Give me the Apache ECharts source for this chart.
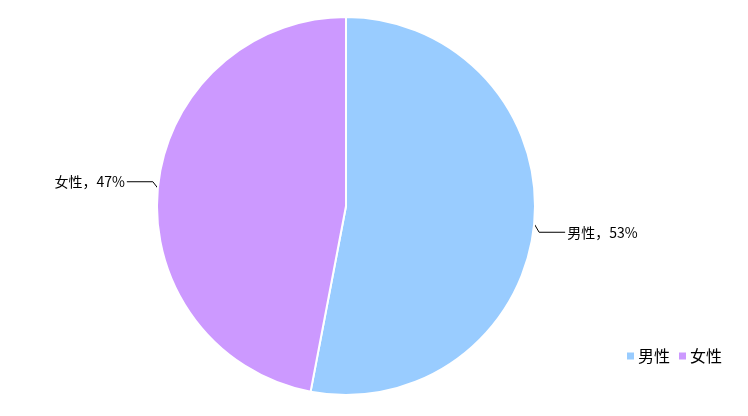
<!DOCTYPE html>
<html><head><meta charset="utf-8">
<script src="https://cdn.jsdelivr.net/npm/echarts@6/dist/echarts.min.js"></script>
<style>html,body{margin:0;padding:0;background:#fff}#c{width:748px;height:416px}</style>
</head><body><div id="c"></div>
<script>
const categories = ['男性', '女性'];
const values = [53, 47];
const colors = ['#99CCFF', '#CC99FF'];

const chart = echarts.init(document.getElementById('c'));
chart.setOption({
  animation: false,
  color: colors,
  legend: {
    data: categories,
    right: 21,
    top: 343,
    itemWidth: 9,
    itemHeight: 9,
    itemGap: 7,
    icon: 'rect',
    textStyle: { fontFamily: 'Noto Sans CJK SC', fontSize: 16, color: '#000', padding: [0,0,0,-2] }
  },
  series: [{
    type: 'pie',
    center: [346, 206],
    radius: 189,
    startAngle: 90,
    clockwise: true,
    itemStyle: { borderColor: '#fff', borderWidth: 2 },
    label: {
      show: true,
      formatter: '{b}，{d}%',
      fontFamily: 'Noto Sans CJK SC',
      fontSize: 14,
      color: '#000',
      distanceToLabelLine: 2
    },
    labelLine: { show: true, length: 5, length2: 26, lineStyle: { color: '#000', width: 1 } },
    labelLayout: function (p) {
      const dy = p.dataIndex === 0 ? 8 : -6;
      const pts = p.labelLinePoints;
      if (!pts) return { dy: dy };
      return {
        dy: dy,
        labelLinePoints: [
          [pts[0][0], pts[0][1]],
          [pts[1][0], pts[1][1] + dy],
          [pts[2][0], pts[2][1] + dy]
        ]
      };
    },
    emphasis: { disabled: true },
    data: categories.map((c, i) => ({ name: c, value: values[i] }))
  }]
});
</script></body></html>
